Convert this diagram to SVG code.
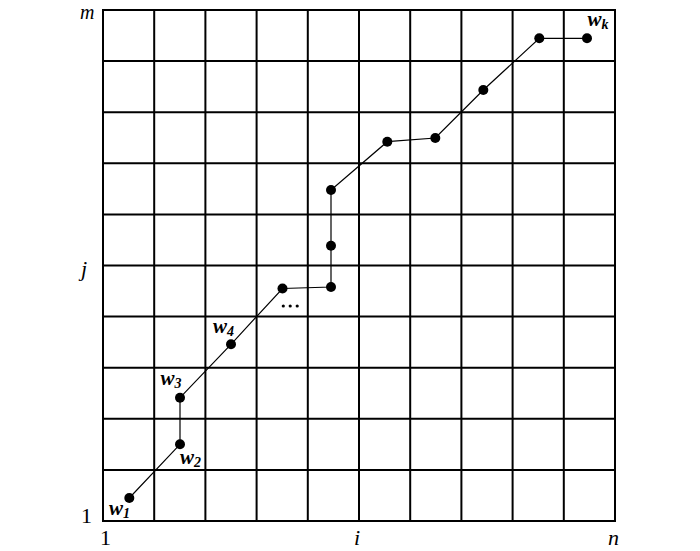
<svg xmlns="http://www.w3.org/2000/svg" width="700" height="551" viewBox="0 0 700 551">
<style>
.grid{stroke:#000;stroke-width:2;fill:none}
.path{stroke:#000;stroke-width:1.2;fill:none}
.pt{fill:#000}
text{font-family:'Liberation Serif','Times New Roman',Times,serif;fill:#000}
.lbl{font-weight:bold;font-style:italic;font-size:21px}
.sub{font-size:14px}
.ax{font-size:22px}
.it{font-style:italic}
</style>
<rect width="700" height="551" fill="#fff"/>
<g id="grid" class="grid">
<rect x="103" y="10" width="512" height="511"/>
<path d="M154.2 10V521M205.4 10V521M256.6 10V521M307.8 10V521M359 10V521M410.2 10V521M461.4 10V521M512.6 10V521M563.8 10V521M103 61.1H615M103 112.2H615M103 163.3H615M103 214.4H615M103 265.5H615M103 316.6H615M103 367.7H615M103 418.8H615M103 469.9H615"/>
</g>
<g id="axes">
<text class="ax it" x="80" y="19" style="font-size:20px">m</text>
<text class="ax it" x="81" y="276">j</text>
<text class="ax" x="81" y="523">1</text>
<text class="ax" x="100" y="545">1</text>
<text class="ax it" x="354" y="545">i</text>
<text class="ax it" x="608" y="545">n</text>
</g>
<g id="connectors" class="path">
<polyline points="129.3,498 180,444.3 180,397.7 231,344.3 282.5,288.5 331,287 331,245.7 331,190 387.3,141.7 435.3,138 483.3,90 539.3,38.3 587,38.3"/>
</g>
<g id="w1"><circle class="pt" cx="129.3" cy="498" r="5"/><text class="lbl" x="109" y="515">w<tspan class="sub" dy="3">1</tspan></text></g>
<g id="w2"><circle class="pt" cx="180" cy="444.3" r="5"/><text class="lbl" x="180" y="464">w<tspan class="sub" dy="3">2</tspan></text></g>
<g id="w3"><circle class="pt" cx="180" cy="397.7" r="5"/><text class="lbl" x="160.5" y="385">w<tspan class="sub" dy="3">3</tspan></text></g>
<g id="w4"><circle class="pt" cx="231" cy="344.3" r="5"/><text class="lbl" x="213" y="333">w<tspan class="sub" dy="3">4</tspan></text></g>
<g id="p5"><circle class="pt" cx="282.5" cy="288.5" r="5"/></g>
<g id="ellipsis"><circle class="pt" cx="283.3" cy="306" r="1.6"/><circle class="pt" cx="290.2" cy="306" r="1.6"/><circle class="pt" cx="297.2" cy="306" r="1.6"/></g>
<g id="p6"><circle class="pt" cx="331" cy="287" r="5"/></g>
<g id="p7"><circle class="pt" cx="331" cy="245.7" r="5"/></g>
<g id="p8"><circle class="pt" cx="331" cy="190" r="5"/></g>
<g id="p9"><circle class="pt" cx="387.3" cy="141.7" r="5"/></g>
<g id="p10"><circle class="pt" cx="435.3" cy="138" r="5"/></g>
<g id="p11"><circle class="pt" cx="483.3" cy="90" r="5"/></g>
<g id="p12"><circle class="pt" cx="539.3" cy="38.3" r="5"/></g>
<g id="wk"><circle class="pt" cx="587" cy="38.3" r="5"/><text class="lbl" x="587.5" y="26">w<tspan class="sub" dy="3">k</tspan></text></g>
</svg>
